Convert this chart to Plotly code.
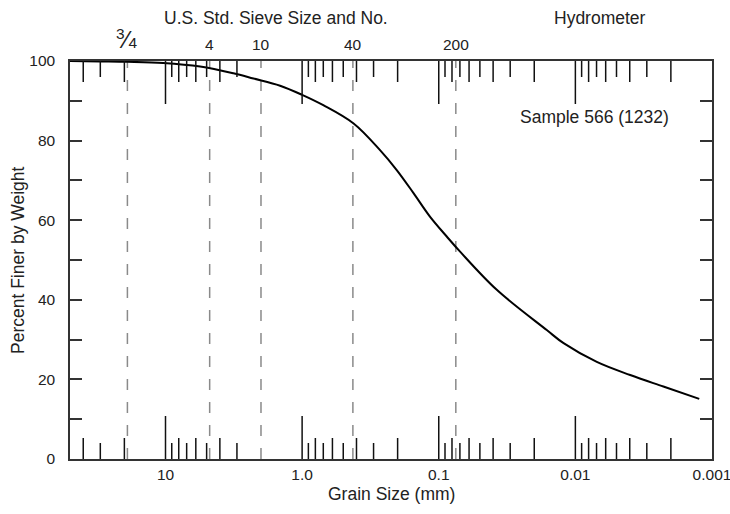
import math
import plotly.graph_objects as go

# ---- data ----
grain_size_mm = [50, 30, 19, 10.4, 5.58, 3.18, 2.27, 1.45, 1.0, 0.70, 0.42, 0.269, 0.203,
                 0.153, 0.116, 0.0874, 0.0698, 0.0376, 0.0162, 0.0122, 0.00697, 0.00397,
                 0.00227, 0.00124]
percent_finer = [100, 99.9, 99.8, 99.5, 98.6, 96.9, 95.6, 93.8, 91.5, 88.9, 84.3, 77.6, 72.6,
                 66.8, 60.9, 55.9, 52.1, 42.5, 32.4, 29.1, 24.4, 21.1, 18.2, 15.1]

sieve_openings_mm = [19.0, 4.75, 2.0, 0.425, 0.075]
sieve_labels = ['<span style="font-size:22px"><sup>3</sup></span>'
                '<span style="font-size:24px">\u2044</span>4', "4", "10", "40", "200"]

x_tick_vals = [10, 1, 0.1, 0.01, 0.001]
x_tick_text = ["10", "1.0", "0.1", "0.01", "0.001"]
y_tick_vals = [0, 20, 40, 60, 80, 100]
y_minor_vals = [10, 30, 50, 70, 90]

scale_marks_mm = [40, 30, 20, 10, 9, 8, 7, 6, 5, 4, 3,
                  1, 0.9, 0.8, 0.7, 0.6, 0.5, 0.4, 0.3, 0.2,
                  0.1, 0.09, 0.08, 0.07, 0.06, 0.05, 0.04, 0.03, 0.02,
                  0.01, 0.009, 0.008, 0.007, 0.006, 0.005, 0.004, 0.003, 0.002]

sample_label = "Sample 566 (1232)"

# ---- styling ----
FONT = "Liberation Sans, Arial, sans-serif"
TXT = "#222222"
AX = "#333333"
PLOT_H = 398.0
TICK_FS = 15.5
TITLE_FS = 17.5

fig = go.Figure()
fig.add_trace(go.Scatter(x=grain_size_mm, y=percent_finer, mode="lines",
                         line=dict(color="black", width=2, shape="spline", smoothing=1.0),
                         hoverinfo="skip", showlegend=False))

shapes = []
for s in sieve_openings_mm:
    shapes.append(dict(type="line", xref="x", yref="paper", x0=s, x1=s, y0=0, y1=1,
                       line=dict(color="#8a8a8a", width=1.5, dash="11px,12px"), layer="below"))

def mark_len(v):
    e = math.floor(math.log10(v) + 1e-9)
    d = round(v / 10 ** e)
    if d == 1:
        return 43
    return 21 if d % 2 == 0 else 16

for v in scale_marks_mm:
    L = mark_len(v) / PLOT_H
    shapes.append(dict(type="line", xref="x", yref="paper", x0=v, x1=v, y0=0, y1=L,
                       line=dict(color="#111111", width=1.5)))
    shapes.append(dict(type="line", xref="x", yref="paper", x0=v, x1=v, y0=1, y1=1 - L,
                       line=dict(color="#111111", width=1.5)))

annotations = []
for s, lab in zip(sieve_openings_mm, sieve_labels):
    annotations.append(dict(x=math.log10(s), xref="x", y=1.0163, yref="paper", text=lab,
                            showarrow=False, xanchor="center", yanchor="bottom",
                            font=dict(family=FONT, size=TICK_FS, color=TXT)))
annotations += [
    dict(x=0.321, y=1.107, xref="paper", yref="paper", text="U.S. Std. Sieve Size and No.",
         showarrow=False, xanchor="center", yanchor="middle",
         font=dict(family=FONT, size=TITLE_FS, color=TXT)),
    dict(x=0.8255, y=1.107, xref="paper", yref="paper", text="Hydrometer",
         showarrow=False, xanchor="center", yanchor="middle",
         font=dict(family=FONT, size=TITLE_FS, color=TXT)),
    dict(x=0.817, y=0.860, xref="paper", yref="paper", text=sample_label,
         showarrow=False, xanchor="center", yanchor="middle",
         font=dict(family=FONT, size=TITLE_FS, color=TXT)),
    dict(x=-0.081, y=0.5, xref="paper", yref="paper", text="Percent Finer by Weight",
         textangle=-90, showarrow=False, xanchor="center", yanchor="middle",
         font=dict(family=FONT, size=TITLE_FS, color=TXT)),
    dict(x=0.5, y=-0.088, xref="paper", yref="paper", text="Grain Size (mm)",
         showarrow=False, xanchor="center", yanchor="middle",
         font=dict(family=FONT, size=TITLE_FS, color=TXT)),
]

fig.update_layout(
    width=730, height=514,
    margin=dict(l=70, r=18, t=61, b=55, pad=0, autoexpand=False),
    paper_bgcolor="white", plot_bgcolor="white",
    font=dict(family=FONT, size=TICK_FS, color=TXT),
    shapes=shapes, annotations=annotations,
    xaxis=dict(type="log", range=[math.log10(50), -3.0], tickvals=x_tick_vals,
               ticktext=x_tick_text, ticks="", showgrid=False, zeroline=False,
               showline=True, mirror=True, linecolor=AX, linewidth=1.5,
               ticklabeloverflow="allow", automargin=False,
               ticklabelstandoff=1, tickfont=dict(family=FONT, size=TICK_FS, color=TXT)),
    yaxis=dict(range=[0, 100], tickvals=y_tick_vals, ticks="inside", ticklen=12,
               tickwidth=1.5, tickcolor=AX, automargin=False,
               minor=dict(tickvals=y_minor_vals, ticks="inside", ticklen=12,
                          tickwidth=1.5, tickcolor=AX, showgrid=False),
               showgrid=False, zeroline=False, showline=True, mirror="ticks",
               linecolor=AX, linewidth=1.5, ticklabelstandoff=10,
               tickfont=dict(family=FONT, size=TICK_FS, color=TXT)),
)

fig.write_html("out.html")
